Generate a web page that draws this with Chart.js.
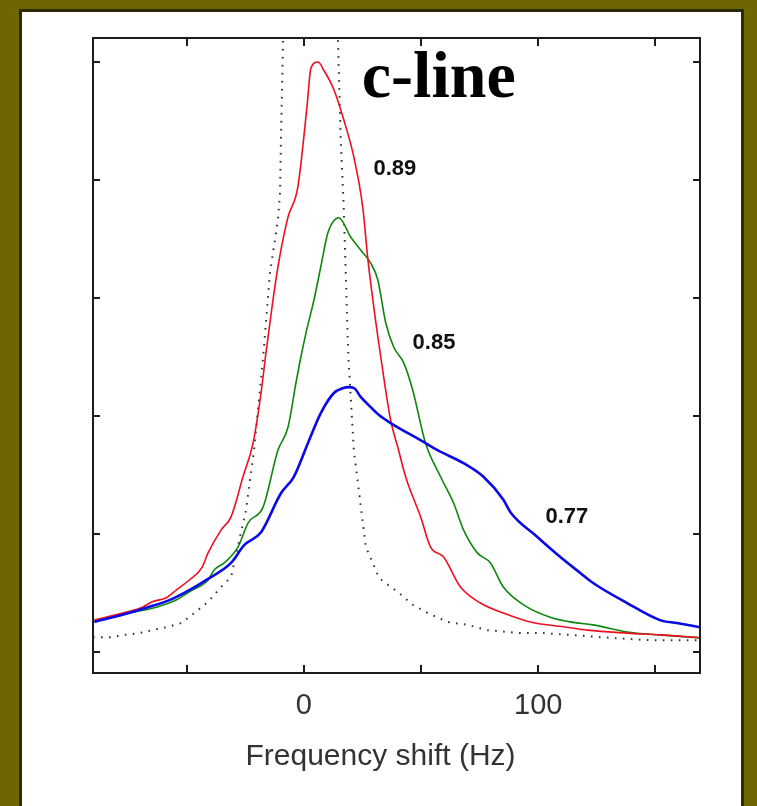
<!DOCTYPE html>
<html>
<head>
<meta charset="utf-8">
<script src="https://cdn.jsdelivr.net/npm/chart.js@4.4.0/dist/chart.umd.min.js"></script>
<style>
  body { margin: 0; background: #6e6600; }
  #wrap { width: 757px; height: 806px; }
</style>
</head>
<body>
<div id="wrap"><canvas id="myChart" width="757" height="806"></canvas></div>
<script>
// spectra of the c-line, normalised to the 0.89 peak
const redX = [-89.4,-77.4,-68.9,-64.7,-58.7,-54.5,-48.9,-43.4,-40.9,-35.3,-31.1,-26.0,-21.7,-18.3,-16.2,-13.2,-10.6,-6.8,-2.6,1.3,3.0,6.0,8.5,12.8,17.0,21.3,25.1,27.2,29.8,32.8,37.0,40.4,42.6,44.3,49.8,54.0,59.6,66.8,75.3,85.1,96.6,112.3,120.9,137.9,151.9,169];
const redY = [0.054,0.066,0.076,0.085,0.092,0.105,0.122,0.144,0.168,0.207,0.229,0.297,0.354,0.439,0.507,0.597,0.664,0.737,0.788,0.924,0.990,1.000,0.986,0.953,0.902,0.839,0.754,0.669,0.585,0.500,0.393,0.342,0.308,0.286,0.229,0.178,0.161,0.110,0.083,0.066,0.051,0.042,0.037,0.032,0.029,0.024];

const greenX = [-89.4,-77.4,-63.0,-54.5,-48.9,-40.9,-38.3,-34.0,-28.1,-23.8,-17.4,-11.1,-6.8,-3.4,-1.3,0.9,4.3,7.2,10.2,14.9,20.0,24.3,28.5,31.5,34.9,38.3,42.6,46.4,51.9,58.3,63.8,68.1,74.0,79.6,85.1,95.3,105.1,113.6,123.4,137.9,151.9,169];
const greenY = [0.053,0.064,0.076,0.088,0.102,0.122,0.139,0.151,0.178,0.219,0.246,0.342,0.381,0.456,0.500,0.541,0.597,0.653,0.710,0.736,0.703,0.681,0.659,0.631,0.558,0.517,0.490,0.444,0.354,0.297,0.253,0.207,0.168,0.151,0.110,0.076,0.059,0.051,0.046,0.034,0.029,0.024];

const blueX = [-89.4,-77.4,-67.2,-57.4,-48.9,-40.9,-31.1,-25.5,-18.3,-9.8,-4.3,1.7,7.2,12.8,16.5,19.1,21.5,24.3,28.5,31.9,37.0,51.1,57.0,68.1,76.6,85.1,88.1,99.6,109.4,117.9,123.4,137.9,151.9,159.1,169];
const blueY = [0.051,0.063,0.075,0.088,0.105,0.124,0.151,0.181,0.203,0.269,0.297,0.354,0.405,0.439,0.447,0.449,0.447,0.432,0.415,0.402,0.388,0.356,0.342,0.320,0.297,0.258,0.237,0.195,0.161,0.134,0.117,0.083,0.054,0.049,0.042];

// dotted reference line (its top runs off the plot)
const refX = [-90,-82.1,-76.6,-70.2,-64.7,-58.7,-52.3,-46.8,-40.9,-34.5,-31.1,-24.7,-21.3,-17.4,-14.5,-11.1,-10.2,-9.8,-8.9,3.0,14.5,15.7,17.0,18.7,19.1,21.3,24.3,26.4,29.8,31.9,34.0,40.0,46.4,52.8,61.3,69.8,78.3,92.3,102.1,113.6,130.6,147.7,169];
const refY = [0.025,0.025,0.029,0.032,0.037,0.042,0.049,0.066,0.085,0.114,0.127,0.241,0.342,0.500,0.642,0.732,0.778,0.868,1.037,1.24,1.037,0.868,0.754,0.529,0.490,0.342,0.246,0.178,0.147,0.127,0.119,0.102,0.080,0.066,0.051,0.046,0.037,0.032,0.032,0.029,0.024,0.020,0.020];

const curveNames = ['0.77', '0.89', '0.85'];
const xTicks = [-50, 0, 50, 100, 150];
const xTickLabels = [0, 100];
const yTicks = [0, 0.2, 0.4, 0.6, 0.8, 1.0];
const xTitle = 'Frequency shift (Hz)';
const plotTitle = 'c-line';

const pts = (xs, ys) => xs.map((x, i) => ({ x: x, y: ys[i] }));

const frame = {
  id: 'frame',
  beforeDraw(chart) {
    const ctx = chart.ctx;
    ctx.save();
    ctx.fillStyle = '#6e6600';
    ctx.fillRect(0, 0, chart.width, chart.height);
    ctx.fillStyle = '#2e2a00';
    ctx.fillRect(19, 9, 725, 797);
    ctx.fillStyle = '#ffffff';
    ctx.fillRect(22, 12, 719, 794);
    ctx.restore();
  },
  afterDatasetsDraw(chart) {
    const { ctx, chartArea: a, scales: { x, y } } = chart;
    ctx.save();
    ctx.strokeStyle = '#1c1c1c';
    ctx.lineWidth = 2;
    ctx.strokeRect(a.left, a.top, a.right - a.left, a.bottom - a.top);
    ctx.beginPath();
    xTicks.forEach(v => {
      const px = Math.round(x.getPixelForValue(v));
      ctx.moveTo(px, a.bottom); ctx.lineTo(px, a.bottom - 8);
      ctx.moveTo(px, a.top); ctx.lineTo(px, a.top + 8);
    });
    yTicks.forEach(v => {
      const py = Math.round(y.getPixelForValue(v));
      ctx.moveTo(a.left, py); ctx.lineTo(a.left + 7, py);
      ctx.moveTo(a.right, py); ctx.lineTo(a.right - 7, py);
    });
    ctx.stroke();

    // curve labels
    ctx.fillStyle = '#111';
    ctx.font = 'bold 22px "Liberation Sans", Arial, sans-serif';
    ctx.textAlign = 'center';
    ctx.textBaseline = 'middle';
    ctx.fillText(curveNames[1], x.getPixelForValue(38.8), y.getPixelForValue(0.819));
    ctx.fillText(curveNames[2], x.getPixelForValue(55.5), y.getPixelForValue(0.524));
    ctx.fillText(curveNames[0], x.getPixelForValue(112.2), y.getPixelForValue(0.229));

    ctx.fillStyle = '#000';
    ctx.font = 'bold 66px "Liberation Serif", "Times New Roman", serif';
    ctx.textAlign = 'left';
    ctx.textBaseline = 'alphabetic';
    ctx.fillText(plotTitle, x.getPixelForValue(24.7), y.getPixelForValue(0.941));

    // axis title
    ctx.fillStyle = '#333';
    ctx.font = '30px "Liberation Sans", Arial, sans-serif';
    ctx.textAlign = 'center';
    ctx.textBaseline = 'middle';
    ctx.fillText(xTitle, (a.left + a.right) / 2 - 16, 757);
    ctx.restore();
  }
};

const ctx = document.getElementById('myChart').getContext('2d');
const myChart = new Chart(ctx, {
  type: 'line',
  data: {
    datasets: [
      { label: curveNames[0], data: pts(blueX, blueY), borderColor: '#0a0ae6', borderWidth: 2.6, cubicInterpolationMode: 'monotone' },
      { label: curveNames[1], data: pts(redX, redY), borderColor: '#ee1020', borderWidth: 1.6, cubicInterpolationMode: 'monotone' },
      { label: curveNames[2], data: pts(greenX, greenY), borderColor: '#0d870d', borderWidth: 1.6, cubicInterpolationMode: 'monotone' },
      { label: 'ref', data: pts(refX, refY), borderColor: '#333', borderWidth: 2, borderDash: [1.6, 6.4] }
    ]
  },
  options: {
    responsive: false,
    devicePixelRatio: 1,
    animation: false,
    layout: { padding: { left: 93, right: 57, top: 38, bottom: 0 } },
    elements: { point: { radius: 0 }, line: { tension: 0 } },
    plugins: { legend: { display: false }, tooltip: { enabled: false } },
    scales: {
      x: {
        type: 'linear',
        min: -90,
        max: 169,
        afterBuildTicks: scale => { scale.ticks = xTicks.map(v => ({ value: v })); },
        afterFit: scale => { scale.height = 133; },
        grid: { display: false, drawTicks: false },
        border: { display: false },
        ticks: {
          autoSkip: false,
          maxRotation: 0,
          padding: 16,
          color: '#333',
          font: { family: '"Liberation Sans", Arial, sans-serif', size: 29 },
          callback: v => xTickLabels.includes(v) ? String(v) : ''
        }
      },
      y: {
        type: 'linear',
        display: false,
        min: -0.0356,
        max: 1.0407
      }
    }
  },
  plugins: [frame]
});
</script>
</body>
</html>
